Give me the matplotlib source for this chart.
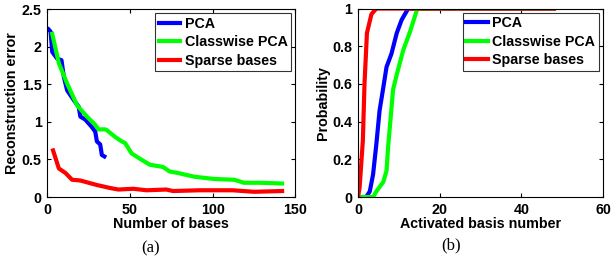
import matplotlib.pyplot as plt

plt.rcParams['font.family'] = ['Liberation Sans', 'DejaVu Sans']
plt.rcParams['font.weight'] = 'bold'

# (a) reconstruction error vs number of bases
pca_x = [0.8, 2, 3, 6, 8.6, 10, 12, 16, 19, 20, 23, 27, 29, 30, 32, 33, 34.5]
pca_y = [2.23, 2.2, 1.93, 1.84, 1.82, 1.6, 1.42, 1.29, 1.2, 1.07, 1.03, 0.93, 0.87, 0.74, 0.7, 0.56, 0.54]

cls_x = [3, 7, 12, 18, 24, 29, 31, 35, 36, 41, 45, 47, 51, 56, 62, 70, 74, 79, 89, 101, 113, 119, 129, 142]
cls_y = [2.17, 1.78, 1.51, 1.22, 1.07, 0.96, 0.9, 0.9, 0.89, 0.8, 0.74, 0.72, 0.58, 0.51, 0.43, 0.4,
         0.34, 0.32, 0.27, 0.24, 0.23, 0.19, 0.19, 0.18]

sp_x = [3.5, 7, 11, 15, 20, 30, 38, 43, 52, 60, 72, 76, 92, 112, 125, 142]
sp_y = [0.62, 0.38, 0.32, 0.23, 0.22, 0.16, 0.12, 0.1, 0.11, 0.09, 0.1, 0.08, 0.09, 0.09, 0.07, 0.08]

# (b) cumulative probability vs activated basis number
cdf_pca_x = [0, 2, 2.9, 3.7, 4.5, 5.3, 6.2, 7, 8.2, 9.5, 10.7, 12.3, 48]
cdf_pca_y = [0, 0, 0.03, 0.12, 0.28, 0.46, 0.58, 0.69, 0.76, 0.87, 0.94, 1.0, 1.0]

cdf_cls_x = [0, 3.7, 4.5, 6.2, 7, 7.4, 8, 8.6, 9.5, 11.1, 12.8, 14.4, 14.8, 48]
cdf_cls_y = [0, 0, 0.03, 0.08, 0.14, 0.27, 0.42, 0.57, 0.65, 0.78, 0.88, 0.99, 1.0, 1.0]

cdf_sp_x = [0, 0.4, 1.2, 1.6, 2.2, 3.3, 4.5, 48]
cdf_sp_y = [0, 0.05, 0.3, 0.6, 0.87, 0.97, 1.0, 1.0]

labels = ['PCA', 'Classwise PCA', 'Sparse bases']
colors = ['#0000ff', '#00ff00', '#ff0000']

fig = plt.figure(figsize=(6.14, 2.67), dpi=100)
ax1 = fig.add_axes([0.077, 0.262, 0.404, 0.704])
ax2 = fig.add_axes([0.583, 0.262, 0.399, 0.706])

fs = 10.3
lw = 3

ax1.plot(pca_x, pca_y, color=colors[0], lw=lw, label=labels[0])
ax1.plot(cls_x, cls_y, color=colors[1], lw=lw, label=labels[1])
ax1.plot(sp_x, sp_y, color=colors[2], lw=lw, label=labels[2])
ax1.set_xlim(0, 150)
ax1.set_ylim(0, 2.5)
ax1.set_xticks([0, 50, 100, 150])
ax1.set_yticks([0, 0.5, 1, 1.5, 2, 2.5])
ax1.set_yticklabels(['0', '0.5', '1', '1.5', '2', '2.5'])
ax1.set_xlabel('Number of bases', fontsize=fs, fontweight='bold', labelpad=0)
ax1.set_ylabel('Reconstruction error', fontsize=fs, fontweight='bold', labelpad=2)

ax2.plot(cdf_pca_x, cdf_pca_y, color=colors[0], lw=lw, label=labels[0])
ax2.plot(cdf_cls_x, cdf_cls_y, color=colors[1], lw=lw, label=labels[1])
ax2.plot(cdf_sp_x, cdf_sp_y, color=colors[2], lw=lw, label=labels[2])
ax2.set_xlim(0, 60)
ax2.set_ylim(0, 1)
ax2.set_xticks([0, 20, 40, 60])
ax2.set_yticks([0, 0.2, 0.4, 0.6, 0.8, 1])
ax2.set_yticklabels(['0', '0.2', '0.4', '0.6', '0.8', '1'])
ax2.set_xlabel('Activated basis number', fontsize=fs, fontweight='bold', labelpad=0)
ax2.set_ylabel('Probability', fontsize=fs, fontweight='bold', labelpad=2)

for ax in (ax1, ax2):
    ax.tick_params(direction='in', top=True, right=True, labelsize=fs, length=3, pad=4)
    for lab in ax.get_xticklabels() + ax.get_yticklabels():
        lab.set_fontweight('bold')
    for s in ax.spines.values():
        s.set_linewidth(0.8)
    leg = ax.legend(loc='upper right', fontsize=fs, frameon=True, fancybox=False,
                    edgecolor='black', handlelength=1.5, handletextpad=0.3,
                    borderpad=0.25, labelspacing=0.3, borderaxespad=0.3)
    leg.get_frame().set_linewidth(0.8)
    for t in leg.get_texts():
        t.set_fontweight('bold')

fig.text(0.245, 0.07, '(a)', ha='center', va='center', fontsize=12,
         family=['Liberation Serif', 'DejaVu Serif'], fontweight='normal')
fig.text(0.735, 0.08, '(b)', ha='center', va='center', fontsize=12,
         family=['Liberation Serif', 'DejaVu Serif'], fontweight='normal')

fig.savefig('out.png', dpi=100)
